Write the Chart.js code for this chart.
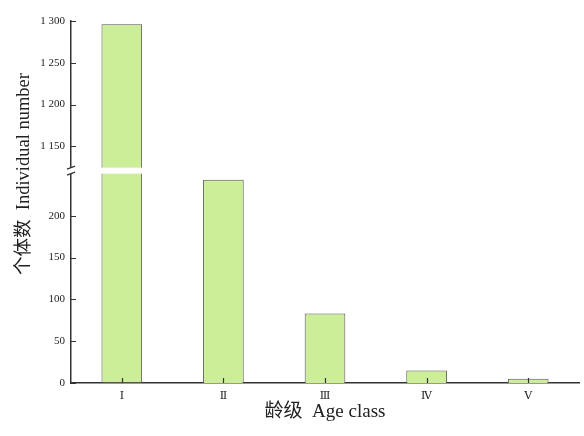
<!DOCTYPE html>
<html>
<head>
<meta charset="utf-8">
<script src="https://cdn.jsdelivr.net/npm/chart.js@4/dist/chart.umd.min.js"></script>
<style>
  html, body { margin: 0; padding: 0; background: #fff; }
  #wrap { width: 584px; height: 436px; }
</style>
</head>
<body>
<div id="wrap"><canvas id="ageChart" width="584" height="436"></canvas></div>
<script>
// data
const ageClasses = ['\u2160', '\u2161', '\u2162', '\u2163', '\u2164'];
const individuals = [1296, 243, 83, 15, 5];
const lowTicks = [0, 50, 100, 150, 200];
const highTicks = [1150, 1200, 1250, 1300];
const lowRange = [0, 254];
const highRange = [1121, 1300];
const xTitle = '龄级  Age class';
const yTitle = '个体数  Individual number';

const serif = "'Liberation Serif', 'DejaVu Serif', 'Noto Sans CJK SC', serif";
const axisColor = '#333';

// lower part is cut at the break, upper part only for bars above it
const lowData = individuals.map(v => Math.min(v, lowRange[1]));
const highData = individuals.map(v => v > highRange[0] ? v : null);

function fmt(v) {
    return String(v).replace(/\B(?=(\d{3})+(?!\d))/g, ' ');
}

// inward ticks, axis break and the y title
const extras = {
    id: 'extras',
    afterDatasetsDraw(chart) {
        const c = chart.ctx;
        const area = chart.chartArea;
        const low = chart.scales.yLow;
        const high = chart.scales.yHigh;
        const x = chart.scales.x;
        const brk = (high.bottom + low.top) / 2;
        const gapTop = brk - 3;
        const gapBot = brk + 3;

        c.save();
        // white gap through the bars and the axis
        c.fillStyle = '#fff';
        c.fillRect(area.left - 2, gapTop, area.right - area.left + 2, gapBot - gapTop);

        c.strokeStyle = axisColor;
        c.lineWidth = 1.2;
        c.beginPath();
        [low, high].forEach(s => {
            s.ticks.forEach(t => {
                const y = Math.round(s.getPixelForValue(t.value)) + 0.5;
                c.moveTo(area.left, y);
                c.lineTo(area.left + 5, y);
            });
        });
        ageClasses.forEach((_, i) => {
            const px = Math.round(x.getPixelForValue(i)) + 0.5;
            c.moveTo(px, area.bottom);
            c.lineTo(px, area.bottom - 5);
        });
        // break slashes
        c.moveTo(area.left - 4, gapTop + 1.5);
        c.lineTo(area.left + 4, gapTop - 1.5);
        c.moveTo(area.left - 4, gapBot + 1.5);
        c.lineTo(area.left + 4, gapBot - 1.5);
        c.stroke();

        // y axis title
        c.translate(24, 174);
        c.rotate(-Math.PI / 2);
        c.fillStyle = '#222';
        c.font = '18.5px ' + serif;
        c.textAlign = 'center';
        c.textBaseline = 'middle';
        c.fillText(yTitle, 0, 0);
        c.restore();
    }
};

const barStyle = {
    backgroundColor: '#cdee98',
    borderColor: '#555',
    borderWidth: 1,
    barPercentage: 0.4,
    categoryPercentage: 1,
    grouped: false
};

const tickFont = { family: serif, size: 11 };

new Chart(document.getElementById('ageChart'), {
    type: 'bar',
    data: {
        labels: ageClasses,
        datasets: [
            Object.assign({
                data: lowData,
                yAxisID: 'yLow',
                borderSkipped: ctx => individuals[ctx.dataIndex] > lowRange[1] ? 'top' : 'start'
            }, barStyle),
            Object.assign({
                data: highData,
                yAxisID: 'yHigh',
                borderSkipped: 'start'
            }, barStyle)
        ]
    },
    options: {
        responsive: false,
        animation: false,
        layout: { padding: { left: 0, right: 5, top: 21, bottom: 0 } },
        plugins: { legend: { display: false }, tooltip: { enabled: false } },
        scales: {
            x: {
                grid: { display: false, drawTicks: false },
                border: { color: axisColor, width: 1.5 },
                ticks: { color: '#222', padding: 7, font: tickFont },
                title: {
                    display: true, text: xTitle, color: '#222',
                    font: { family: serif, size: 19 }, padding: { top: 0, bottom: 13 }
                },
                afterFit: s => { s.height = 53; }
            },
            yLow: {
                type: 'linear', position: 'left', stack: 'y', stackWeight: lowRange[1] - lowRange[0],
                min: lowRange[0], max: lowRange[1],
                grid: { display: false, drawTicks: false },
                border: { color: axisColor, width: 1.5 },
                afterBuildTicks: s => { s.ticks = lowTicks.map(v => ({ value: v })); },
                ticks: { color: '#222', padding: 6, font: tickFont, callback: v => fmt(v) },
                afterFit: s => { s.width = 71; }
            },
            yHigh: {
                type: 'linear', position: 'left', stack: 'y', stackWeight: highRange[1] - highRange[0],
                min: highRange[0], max: highRange[1],
                grid: { display: false, drawTicks: false },
                border: { color: axisColor, width: 1.5 },
                afterBuildTicks: s => { s.ticks = highTicks.map(v => ({ value: v })); },
                ticks: { color: '#222', padding: 6, font: tickFont, callback: v => fmt(v) },
                afterFit: s => { s.width = 71; }
            }
        }
    },
    plugins: [extras]
});
</script>
</body>
</html>
